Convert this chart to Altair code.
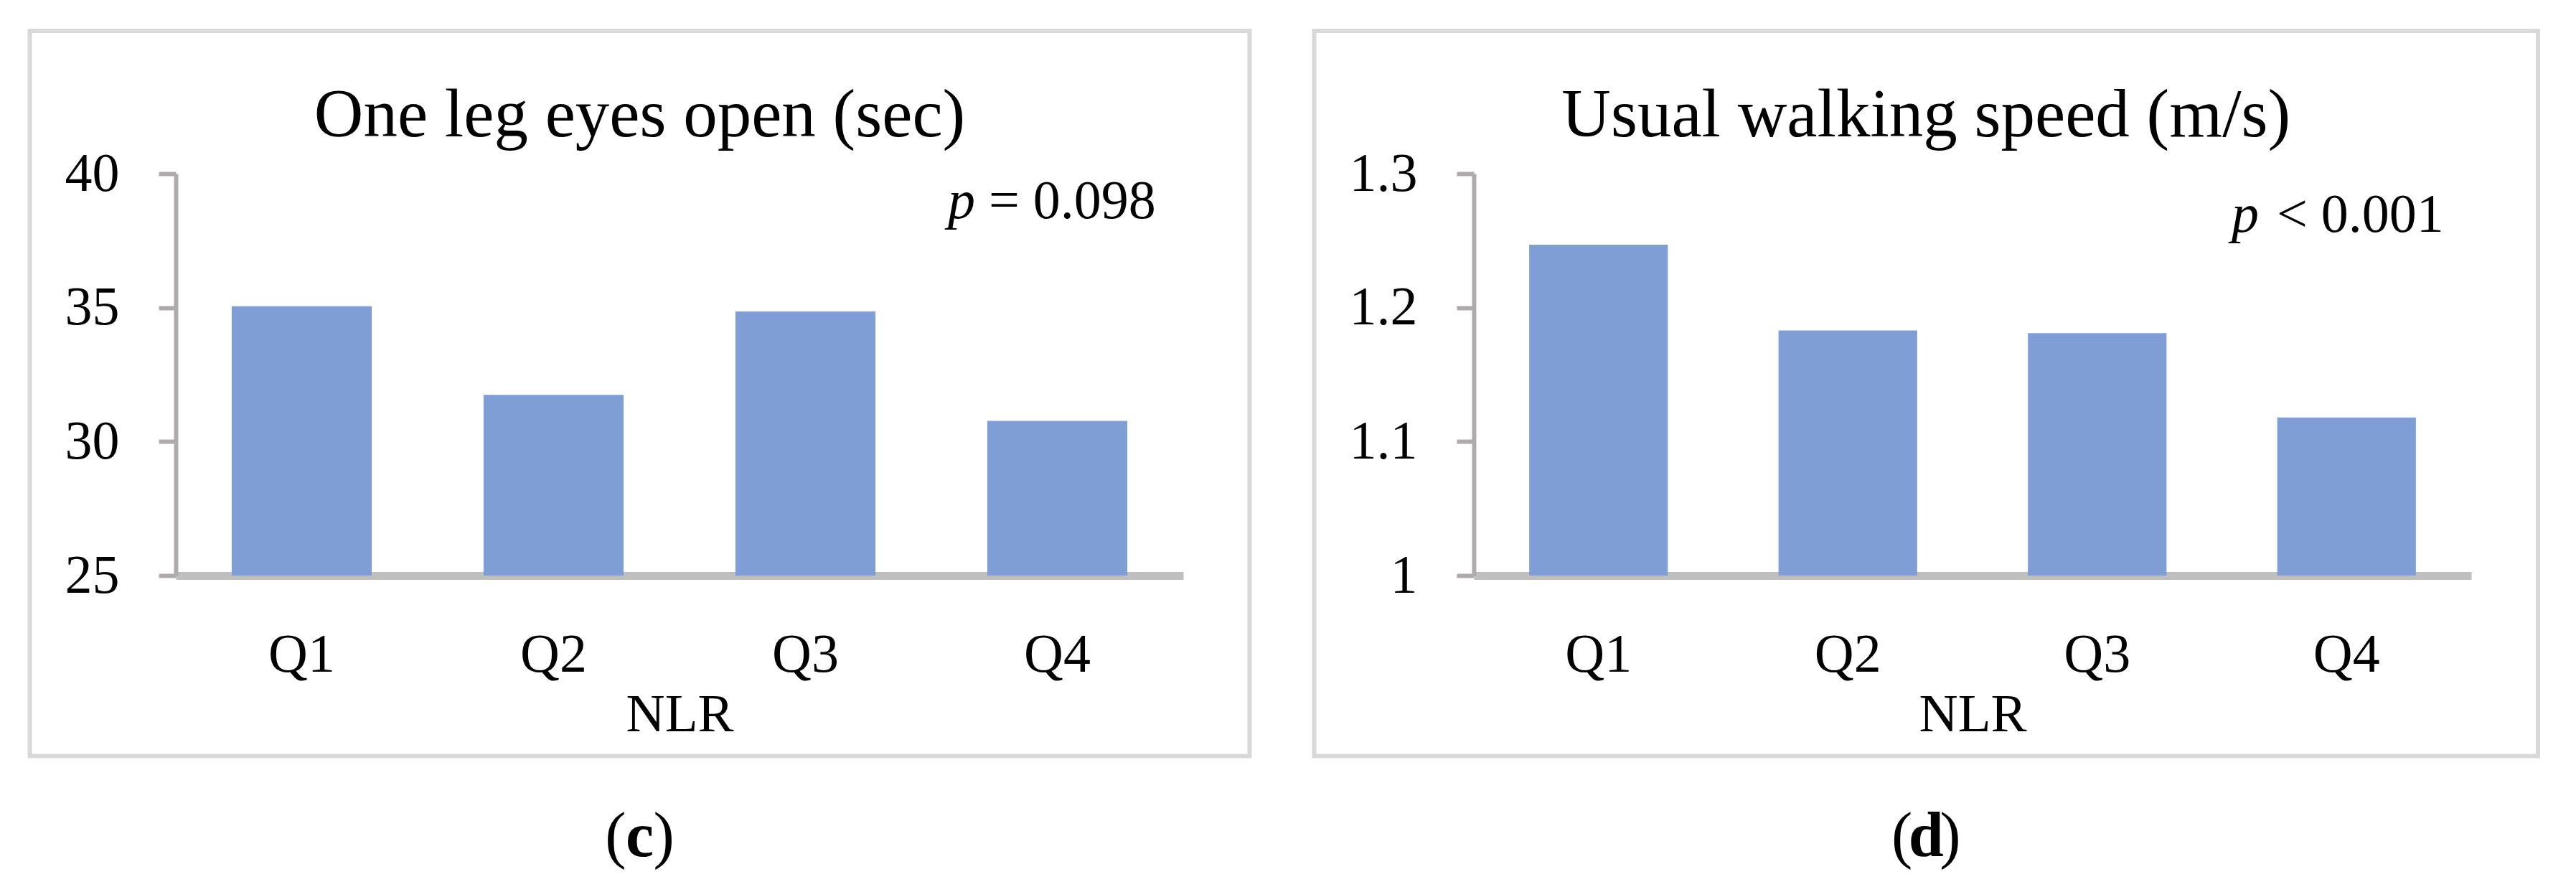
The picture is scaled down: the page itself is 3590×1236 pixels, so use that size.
import altair as alt
import pandas as pd

# ---- data ----
categories = ["Q1", "Q2", "Q3", "Q4"]
one_leg_values = [35.05, 31.74, 34.86, 30.77]
walking_values = [1.247, 1.183, 1.181, 1.118]
one_leg_ticks = [25, 30, 35, 40]
walking_ticks = [1.0, 1.1, 1.2, 1.3]
titles = ["One leg eyes open (sec)", "Usual walking speed (m/s)"]
p_symbol = "p"
p_rest = ["= 0.098", "< 0.001"]
letters = ["c", "d"]
x_title = "NLR"

FONT = "Liberation Serif"
BAR = "#7F9ED5"
AXIS_GRAY = "#AFABAB"
BASE_GRAY = "#BFBFBF"
H = 1010.5


def panel(values, ticks, title, prest, letter, W, y_axis_x, plot_w, p_x, rest_x, p_y):
    df = pd.DataFrame({"cat": categories, "val": values})
    y0, y1 = ticks[0], ticks[-1]
    bars = alt.Chart(df).mark_bar(color=BAR).encode(
        x=alt.X(
            "cat:N",
            sort=categories,
            scale=alt.Scale(range=[y_axis_x, y_axis_x + plot_w], paddingInner=0.444, paddingOuter=0.222),
            axis=alt.Axis(
                offset=-(H - 759),
                domainColor=BASE_GRAY,
                domainWidth=11,
                ticks=False,
                tickSize=0,
                labelPadding=133,
                labelBaseline="alphabetic",
                labelAngle=0,
                labelFont=FONT,
                labelFontSize=76,
                labelColor="black",
                title=x_title,
                titleFont=FONT,
                titleFontSize=75,
                titleFontWeight="normal",
                titleColor="black",
                titleBaseline="alphabetic",
                titleY=216,
                grid=False,
            ),
        ),
        y=alt.Y(
            "val:Q",
            scale=alt.Scale(domain=[y0, y1], range=[759, 199], zero=False, nice=False),
            axis=alt.Axis(
                values=ticks,
                format="~g",
                offset=-y_axis_x,
                domainColor=AXIS_GRAY,
                domainWidth=6,
                tickColor=AXIS_GRAY,
                tickWidth=6,
                tickSize=24,
                labelPadding=55,
                labelFont=FONT,
                labelFontSize=76,
                labelColor="black",
                title=None,
                grid=False,
            ),
        ),
        y2=alt.datum(y0),
    )

    cx = W / 2
    tdf = pd.DataFrame({"t": [title]})
    title_txt = alt.Chart(tdf).mark_text(
        font=FONT, fontSize=95, color="black", align="center", baseline="alphabetic"
    ).encode(x=alt.value(cx), y=alt.value(147), text="t:N")

    p1 = alt.Chart(pd.DataFrame({"t": [p_symbol]})).mark_text(
        font=FONT, fontSize=76, fontStyle="italic", color="black", align="left", baseline="alphabetic"
    ).encode(x=alt.value(p_x), y=alt.value(p_y), text="t:N")
    p2 = alt.Chart(pd.DataFrame({"t": [prest]})).mark_text(
        font=FONT, fontSize=76, color="black", align="left", baseline="alphabetic"
    ).encode(x=alt.value(rest_x), y=alt.value(p_y), text="t:N")

    lp = alt.Chart(pd.DataFrame({"t": ["("]})).mark_text(
        font=FONT, fontSize=88, color="black", align="right", baseline="alphabetic"
    ).encode(x=alt.value(cx - 19), y=alt.value(1150), text="t:N")
    lc = alt.Chart(pd.DataFrame({"t": [letter]})).mark_text(
        font=FONT, fontSize=88, fontWeight="bold", color="black", align="center", baseline="alphabetic"
    ).encode(x=alt.value(cx), y=alt.value(1150), text="t:N")
    rp = alt.Chart(pd.DataFrame({"t": [")"]})).mark_text(
        font=FONT, fontSize=88, color="black", align="left", baseline="alphabetic"
    ).encode(x=alt.value(cx + 19), y=alt.value(1150), text="t:N")

    return alt.layer(bars, title_txt, p1, p2, lp, lc, rp).properties(width=W, height=H)


left = panel(one_leg_values, one_leg_ticks, titles[0], p_rest[0], letters[0],
             W=1700, y_axis_x=203.5, plot_w=1404, p_x=1279.5, rest_x=1336.5, p_y=261)
right = panel(walking_values, walking_ticks, titles[1], p_rest[1], letters[1],
              W=1705.5, y_axis_x=222.5, plot_w=1390, p_x=1278.5, rest_x=1341.5, p_y=280)

chart = alt.hconcat(left, right, spacing=90, bounds="flush").properties(
    padding={"left": 30.5, "top": 32, "right": 5, "bottom": 5},
    background="white",
).configure_view(stroke="#D9D9D9", strokeWidth=6, fill="white")

chart.save("out.html", embed_options={"renderer": "svg", "actions": False})
